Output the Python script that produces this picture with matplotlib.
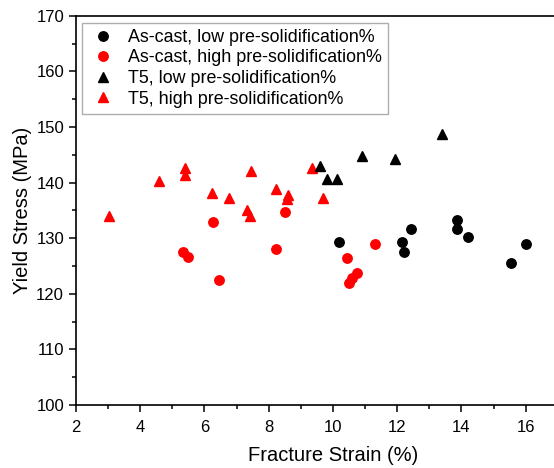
import numpy as np
import matplotlib
matplotlib.use('Agg')
import matplotlib.pyplot as plt
from matplotlib.ticker import MultipleLocator

plt.rcParams['font.family'] = ['Liberation Sans', 'DejaVu Sans']

# As-cast, low pre-solidification%
ac_low_x = [10.18, 12.16, 12.21, 12.42, 13.85, 13.85, 14.19, 15.53, 16.0]
ac_low_y = [129.3, 129.4, 127.6, 131.6, 133.3, 131.6, 130.2, 125.5, 128.95]

# As-cast, high pre-solidification%
ac_high_x = [6.26, 5.34, 5.49, 6.44, 8.24, 8.52, 11.31, 10.45, 10.75, 10.58, 10.50]
ac_high_y = [132.9, 127.6, 126.6, 122.5, 128.1, 134.8, 128.9, 126.5, 123.8, 122.9, 122.0]

# T5, low pre-solidification%
t5_low_x = [9.61, 9.80, 10.13, 10.91, 11.93, 13.40]
t5_low_y = [143.0, 140.6, 140.6, 144.8, 144.2, 148.7]

# T5, high pre-solidification%
t5_high_x = [3.04, 4.58, 5.40, 5.40, 6.23, 6.77, 7.32, 7.42, 7.44, 8.23, 8.61, 8.56, 9.34, 9.69]
t5_high_y = [134.0, 140.3, 142.6, 141.4, 138.2, 137.3, 135.1, 134.0, 142.1, 138.8, 137.7, 137.1, 142.6, 137.3]

x_ticks = [2, 4, 6, 8, 10, 12, 14, 16]

fig = plt.figure(figsize=(5.54, 4.68), dpi=100)
ax = fig.add_axes([0.137, 0.1346, 1.065 - 0.137, 0.966 - 0.1346])

ms = 6.8
ax.plot(ac_low_x, ac_low_y, 'o', color='black', ms=ms, label='As-cast, low pre-solidification%', zorder=3)
ax.plot(ac_high_x, ac_high_y, 'o', color='red', ms=ms, label='As-cast, high pre-solidification%', zorder=3)
ax.plot(t5_low_x, t5_low_y, '^', color='black', ms=ms + 0.6, label='T5, low pre-solidification%', zorder=4)
ax.plot(t5_high_x, t5_high_y, '^', color='red', ms=ms + 0.6, label='T5, high pre-solidification%', zorder=3)

ax.set_xlim(2, 18)
ax.set_ylim(100, 170)
ax.set_xticks(x_ticks)
ax.xaxis.set_minor_locator(MultipleLocator(1))
ax.yaxis.set_major_locator(MultipleLocator(10))
ax.yaxis.set_minor_locator(MultipleLocator(5))
ax.tick_params(which='major', direction='out', length=5, width=1.1, labelsize=12)
ax.tick_params(axis='x', which='major', pad=5.5)
ax.tick_params(which='minor', direction='out', length=3, width=1.1)
for s in ax.spines.values():
    s.set_linewidth(1.2)

ax.set_xlabel('Fracture Strain (%)', fontsize=14.5, labelpad=8.5)
ax.set_ylabel('Yield Stress (MPa)', fontsize=14.5, labelpad=3)

leg = ax.legend(loc='upper left', bbox_to_anchor=(0.012, 0.983), borderaxespad=0,
                fontsize=12.9, frameon=True, fancybox=False, edgecolor='#999999',
                handletextpad=0.6, labelspacing=0.2, borderpad=0.35, handlelength=1.6)
leg.get_frame().set_linewidth(1.0)

fig.savefig('out.png', dpi=100)
